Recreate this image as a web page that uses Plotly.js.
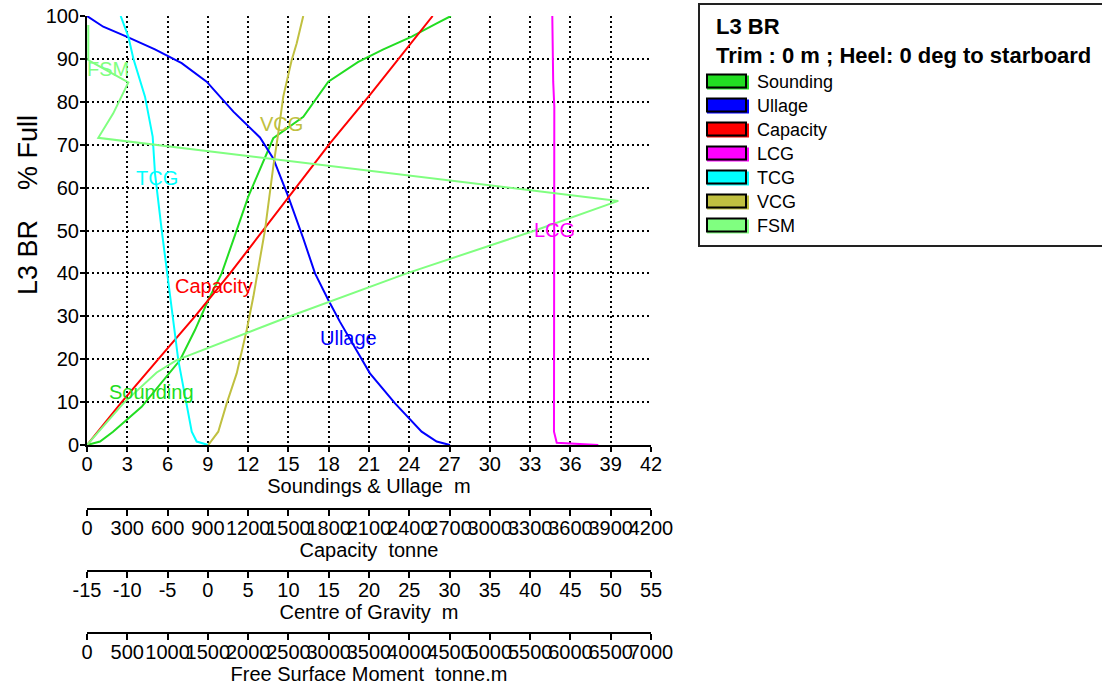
<!DOCTYPE html>
<html>
<head>
<meta charset="utf-8">
<script src="https://cdn.plot.ly/plotly-3.0.1.min.js"></script>
<style>
html,body{margin:0;padding:0;background:#fff;}
#chart{width:1102px;height:687px;}
</style>
</head>
<body>
<div id="chart"></div>
<script>
// ---------------- DATA ----------------
// Sounding (m) vs % full
var soundPct = [0, 0.8, 3.1, 8.9, 19.8, 26.8, 33.8, 40.0, 50.1, 57.9, 71.5, 76.5, 84.7, 89.3, 92.2, 95.2, 98.3, 100];
var soundM   = [0, 0.97, 1.94, 4.07, 6.93, 8.04, 9.03, 10.03, 11.15, 12.01, 13.87, 16.11, 17.97, 20.2, 22.07, 24.18, 26.04, 27.1];
// Ullage (m) vs % full
var ullagePct = [0, 0.8, 3.1, 9.7, 16.7, 28.7, 33.8, 40.0, 48.2, 57.9, 66.8, 71.7, 77.7, 84.7, 89.0, 92.2, 95.2, 97.5, 100];
var ullageM   = [27.03, 26.04, 24.92, 22.94, 21.07, 18.84, 17.97, 16.98, 16.1, 14.99, 13.87, 12.88, 10.9, 8.91, 7.05, 5.06, 2.95, 1.21, 0];
// Capacity (tonne) vs % full
var capPct = [0, 10, 20, 30, 40, 50.1, 57.9, 70.3, 81.6, 92.8, 100];
var capT   = [0, 258, 531, 804, 1065, 1313, 1499, 1809, 2107, 2393, 2574];
// LCG (m) vs % full
var lcgPct = [0, 0.5, 3.1, 78.9, 84.7, 100];
var lcgM   = [48.46, 43.3, 42.96, 43.0, 42.86, 42.75];
// TCG (m) vs % full
var tcgPct = [0, 0.8, 3.1, 9.7, 19.8, 50.1, 63.3, 71.9, 81.2, 90.1, 95.2, 100];
var tcgM   = [0.05, -1.39, -2.0, -2.63, -3.67, -5.73, -6.56, -6.85, -7.8, -9.25, -9.87, -10.82];
// VCG (m) vs % full
var vcgPct = [0, 3.1, 9.7, 16.7, 26.8, 34.6, 50.1, 53.2, 64.9, 72.7, 81.2, 89.7, 93.6, 100];
var vcgM   = [0.05, 1.29, 2.34, 3.58, 4.82, 5.65, 7.09, 7.3, 8.12, 8.74, 9.36, 10.4, 11.02, 11.84];
// FSM (tonne.m) vs % full
var fsmPct = [0, 9.7, 16.9, 19.8, 30, 40, 50, 56.9, 71.6, 77.3, 84.5, 89.7, 97.9];
var fsmTm  = [0, 450, 865, 1113, 2519, 3967, 5560, 6594, 140, 326, 513, 16, 16];

// Series names / colours
var seriesNames  = ['Sounding', 'Ullage', 'Capacity', 'LCG', 'TCG', 'VCG', 'FSM'];
var seriesColors = ['#22dd22', '#0000ff', '#ff0000', '#ff00ff', '#00ffff', '#c0c040', '#80ff80'];

// In-plot curve labels (position in Soundings & Ullage m / % full)
var labelText = ['FSM', 'VCG', 'TCG', 'LCG', 'Capacity', 'Ullage', 'Sounding'];
var labelX    = [1.55, 14.45, 5.21, 34.78, 9.46, 19.51, 4.77];
var labelY    = [87.6, 74.8, 62.2, 50.1, 37.1, 25.0, 12.4];
var labelColors = ['#80ff80', '#c0c040', '#00ffff', '#ff00ff', '#ff0000', '#0000ff', '#22dd22'];

// Tick values / labels
var yTicks = [0, 10, 20, 30, 40, 50, 60, 70, 80, 90, 100];
var x1Ticks = [0, 3, 6, 9, 12, 15, 18, 21, 24, 27, 30, 33, 36, 39, 42];
var x2Ticks = [0, 300, 600, 900, 1200, 1500, 1800, 2100, 2400, 2700, 3000, 3300, 3600, 3900, 4200];
var x3Ticks = [-15, -10, -5, 0, 5, 10, 15, 20, 25, 30, 35, 40, 45, 50, 55];
var x3Labels = ['-15', '-10', '-5', '0', '5', '10', '15', '20', '25', '30', '35', '40', '45', '50', '55'];
var x4Ticks = [0, 500, 1000, 1500, 2000, 2500, 3000, 3500, 4000, 4500, 5000, 5500, 6000, 6500, 7000];

// Axis titles
var yTitle = 'L3 BR\u00a0\u00a0\u00a0\u00a0% Full';
var xTitles = ['Soundings & Ullage\u00a0\u00a0m', 'Capacity\u00a0\u00a0tonne', 'Centre of Gravity\u00a0\u00a0m', 'Free Surface Moment\u00a0\u00a0tonne.m'];
var legendTitle = 'L3 BR';
var legendSub = 'Trim : 0 m ; Heel: 0 deg to starboard';

// ---------------- LAYOUT ----------------
var W = 1102, H = 687;
var mL = 87, mR = W - 651, mT = 16, mB = 7;
var plotH = H - mT - mB;
function py(p) { return (H - mB - p) / plotH; }           // pixel y -> paper y
function px(p) { return (p - mL) / (W - mL - mR); }        // pixel x -> paper x

var FONT = 'Liberation Sans, Arial, sans-serif';
var yDomainStart = py(445);

var traces = [
  {x: soundM, y: soundPct, xaxis: 'x', yaxis: 'y'},
  {x: ullageM, y: ullagePct, xaxis: 'x', yaxis: 'y'},
  {x: capT, y: capPct, xaxis: 'x2', yaxis: 'y'},
  {x: lcgM, y: lcgPct, xaxis: 'x3', yaxis: 'y'},
  {x: tcgM, y: tcgPct, xaxis: 'x3', yaxis: 'y'},
  {x: vcgM, y: vcgPct, xaxis: 'x3', yaxis: 'y'},
  {x: fsmTm, y: fsmPct, xaxis: 'x4', yaxis: 'y'}
].map(function (t, i) {
  t.type = 'scatter'; t.mode = 'lines'; t.name = seriesNames[i];
  t.line = {color: seriesColors[i], width: 2};
  t.showlegend = false; t.hoverinfo = 'skip';
  return t;
});

function freeAxis(range, tv, tt, pos, title) {
  return {
    range: range, tickmode: 'array', tickvals: tv, ticktext: tt, tickangle: 0,
    anchor: 'free', overlaying: 'x', position: pos,
    showgrid: false, zeroline: false, showline: true, linecolor: '#000', linewidth: 2,
    ticks: 'outside', ticklen: 6, tickwidth: 2, tickcolor: '#000', ticklabelstandoff: -5,
    tickfont: {family: FONT, size: 20, color: '#000'},
    title: {text: title, font: {family: FONT, size: 20, color: '#000'}, standoff: 2},
    fixedrange: true
  };
}

var layout = {
  width: W, height: H,
  margin: {l: mL, r: mR, t: mT, b: mB},
  paper_bgcolor: '#fff', plot_bgcolor: '#fff',
  showlegend: false,
  font: {family: FONT, color: '#000'},
  yaxis: {
    domain: [yDomainStart, 1], range: [0, 100], tickmode: 'array', tickvals: yTicks, ticktext: yTicks.map(String),
    showgrid: true, gridcolor: '#000', gridwidth: 2, griddash: '2px,3px',
    zeroline: false, showline: true, linecolor: '#000', linewidth: 2,
    ticks: 'outside', ticklen: 5, tickwidth: 2, tickcolor: '#000', ticklabelstandoff: -3,
    tickfont: {family: FONT, size: 20, color: '#000'},
    fixedrange: true
  },
  xaxis: {
    range: [0, 42], tickmode: 'array', tickvals: x1Ticks, ticktext: x1Ticks.map(String), tickangle: 0, anchor: 'y',
    showgrid: true, gridcolor: '#000', gridwidth: 2, griddash: '2px,3px',
    zeroline: false, showline: true, linecolor: '#000', linewidth: 2,
    ticks: 'outside', ticklen: 5, tickwidth: 2, tickcolor: '#000', ticklabelstandoff: -5,
    tickfont: {family: FONT, size: 20, color: '#000'},
    title: {text: xTitles[0], font: {family: FONT, size: 20, color: '#000'}, standoff: 2},
    fixedrange: true
  },
  xaxis2: freeAxis([0, 4200], x2Ticks, x2Ticks.map(String), py(508.5), xTitles[1]),
  xaxis3: freeAxis([-15, 55], x3Ticks, x3Labels, py(570.5), xTitles[2]),
  xaxis4: freeAxis([0, 7000], x4Ticks, x4Ticks.map(String), py(633), xTitles[3]),
  shapes: [],
  annotations: []
};

// y axis title (rotated text)
layout.annotations.push({xref: 'paper', yref: 'paper', x: px(28), y: py(205), xanchor: 'center', yanchor: 'middle',
  text: yTitle, textangle: -90, showarrow: false, font: {family: FONT, size: 27, color: '#000'}});

// curve labels (text placed in data coordinates of the main axes)
for (var i = 0; i < labelText.length; i++) {
  layout.annotations.push({
    x: labelX[i], y: labelY[i], xref: 'x', yref: 'y', text: labelText[i], showarrow: false,
    font: {family: FONT, size: 20, color: labelColors[i]}, xanchor: 'center', yanchor: 'middle'
  });
}

// legend box (drawn manually, rectangle swatches)
layout.shapes.push({type: 'rect', xref: 'paper', yref: 'paper', x0: px(699), x1: px(1125), y0: py(246), y1: py(4),
  line: {color: '#222', width: 2}, fillcolor: 'rgba(255,255,255,0)', layer: 'above'});
layout.annotations.push({xref: 'paper', yref: 'paper', x: px(714), y: py(27), xanchor: 'left', yanchor: 'middle',
  text: '<b>' + legendTitle + '</b>', showarrow: false, font: {family: FONT, size: 22, color: '#000'}});
layout.annotations.push({xref: 'paper', yref: 'paper', x: px(714), y: py(56), xanchor: 'left', yanchor: 'middle',
  text: '<b>' + legendSub + '</b>', showarrow: false, font: {family: FONT, size: 22, color: '#000'}});
for (var k = 0; k < seriesNames.length; k++) {
  var cy = 81.5 + k * 24;
  layout.shapes.push({type: 'rect', xref: 'paper', yref: 'paper', x0: px(707), x1: px(749), y0: py(cy + 8), y1: py(cy - 6),
    line: {width: 0}, fillcolor: seriesColors[k], layer: 'above'});
  layout.shapes.push({type: 'rect', xref: 'paper', yref: 'paper', x0: px(707), x1: px(746), y0: py(cy + 6), y1: py(cy - 7),
    line: {color: '#000', width: 2}, fillcolor: seriesColors[k], layer: 'above'});
  layout.annotations.push({xref: 'paper', yref: 'paper', x: px(755), y: py(cy), xanchor: 'left', yanchor: 'middle',
    text: seriesNames[k], showarrow: false, font: {family: FONT, size: 18, color: '#000'}});
}

Plotly.newPlot('chart', traces, layout, {displayModeBar: false, staticPlot: true});
</script>
</body>
</html>
